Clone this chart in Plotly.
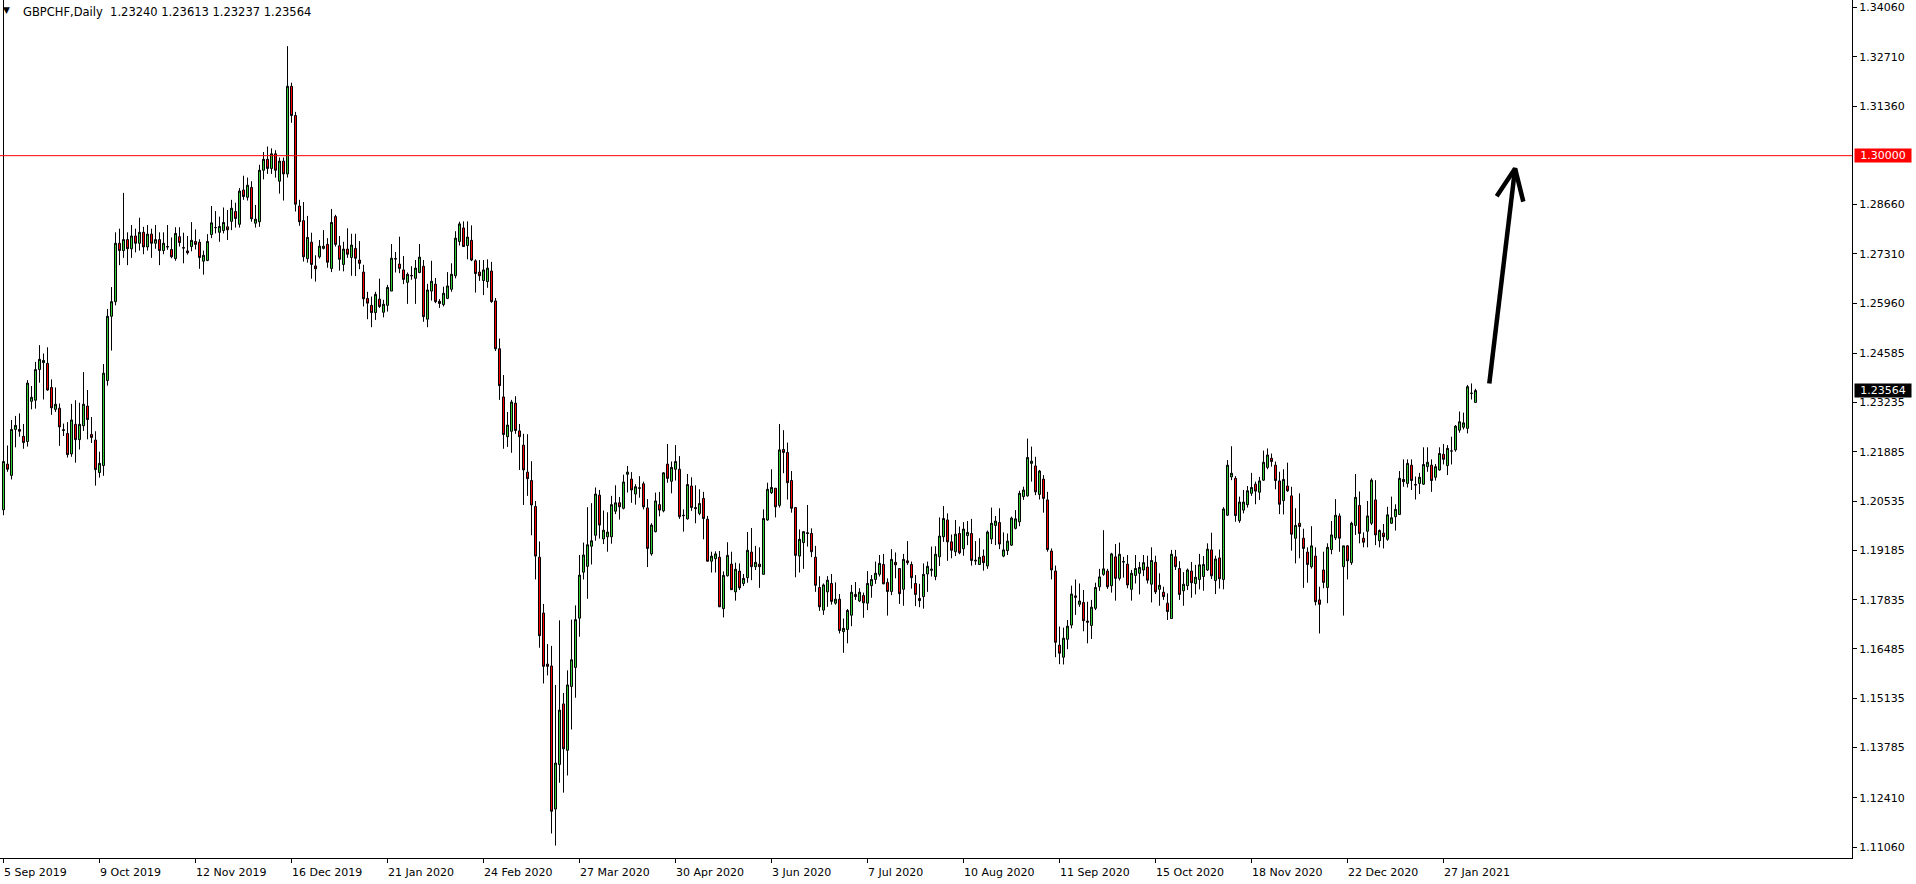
import plotly.graph_objects as go

# ---------------- data ----------------
open_ = [
 1.2030, 1.2155, 1.2124, 1.2250, 1.2250, 1.2231, 1.2217, 1.2327, 1.2330, 1.2414,
 1.2433, 1.2431, 1.2365, 1.2305, 1.2308, 1.2247, 1.2239, 1.2183, 1.2264, 1.2222,
 1.2260, 1.2314, 1.2236, 1.2221, 1.2132, 1.2151, 1.2384, 1.2560, 1.2600, 1.2760,
 1.2740, 1.2770, 1.2745, 1.2780, 1.2760, 1.2790, 1.2750, 1.2785, 1.2760, 1.2770,
 1.2740, 1.2751, 1.2743, 1.2718, 1.2778, 1.2748, 1.2739, 1.2751, 1.2765, 1.2763,
 1.2711, 1.2713, 1.2784, 1.2803, 1.2790, 1.2795, 1.2805, 1.2820, 1.2847, 1.2812,
 1.2906, 1.2886, 1.2913, 1.2815, 1.2819, 1.2960, 1.2990, 1.2965, 1.3005, 1.2930,
 1.2985, 1.2950, 1.3190, 1.3110, 1.2862, 1.2822, 1.2718, 1.2763, 1.2698, 1.2723,
 1.2746, 1.2757, 1.2691, 1.2833, 1.2753, 1.2702, 1.2744, 1.2721, 1.2746, 1.2714,
 1.2681, 1.2609, 1.2590, 1.2570, 1.2607, 1.2571, 1.2590, 1.2629, 1.2718, 1.2703,
 1.2687, 1.2653, 1.2672, 1.2664, 1.2680, 1.2697, 1.2552, 1.2629, 1.2648, 1.2601,
 1.2592, 1.2609, 1.2634, 1.2671, 1.2765, 1.2802, 1.2754, 1.2768, 1.2712, 1.2681,
 1.2658, 1.2655, 1.2684, 1.2602, 1.2471, 1.2339, 1.2230, 1.2245, 1.2322, 1.2246,
 1.2207, 1.2133, 1.2110, 1.2039, 1.1900, 1.1747, 1.1607, 1.1602, 1.1210, 1.1332,
 1.1498, 1.1371, 1.1546, 1.1598, 1.1733, 1.1859, 1.1875, 1.1930, 1.1960, 1.2070,
 1.1950, 1.1956, 1.1956, 1.2026, 1.2049, 1.2034, 1.2127, 1.2114, 1.2073, 1.2090,
 1.2101, 1.2035, 1.1909, 1.1970, 1.2044, 1.2027, 1.2155, 1.2108, 1.2141, 1.2141,
 1.2015, 1.2005, 1.2095, 1.2036, 1.2020, 1.2061, 1.2004, 1.1889, 1.1896, 1.1900,
 1.1759, 1.1849, 1.1881, 1.1805, 1.1862, 1.1828, 1.1844, 1.1914, 1.1874, 1.1881,
 1.1853, 1.2002, 1.2077, 1.2089, 1.2042, 1.2195, 1.2187, 1.2110, 1.2036, 1.1903,
 1.1940, 1.1967, 1.1965, 1.1900, 1.1817, 1.1755, 1.1805, 1.1828, 1.1774, 1.1785,
 1.1696, 1.1702, 1.1741, 1.1798, 1.1780, 1.1795, 1.1774, 1.1822, 1.1839, 1.1853,
 1.1880, 1.1831, 1.1806, 1.1886, 1.1869, 1.1812, 1.1890, 1.1880, 1.1828, 1.1787,
 1.1792, 1.1854, 1.1864, 1.1847, 1.1901, 1.1956, 1.2002, 1.1942, 1.1915, 1.1965,
 1.1923, 1.1959, 1.1965, 1.1892, 1.1880, 1.1903, 1.1876, 1.1950, 1.1987, 1.1995,
 1.1903, 1.1918, 1.1933, 1.1979, 1.1997, 1.2066, 1.2068, 1.2157, 1.2150, 1.2072,
 1.2114, 1.2057, 1.1917, 1.1862, 1.1659, 1.1626, 1.1675, 1.1714, 1.1794, 1.1771,
 1.1776, 1.1725, 1.1713, 1.1760, 1.1819, 1.1853, 1.1862, 1.1822, 1.1901, 1.1842,
 1.1888, 1.1881, 1.1812, 1.1850, 1.1856, 1.1865, 1.1873, 1.1826, 1.1886, 1.1812,
 1.1804, 1.1774, 1.1732, 1.1901, 1.1869, 1.1808, 1.1822, 1.1862, 1.1828, 1.1839,
 1.1847, 1.1865, 1.1920, 1.1836, 1.1898, 1.1839, 1.2015, 1.2120, 1.2116, 1.2000,
 1.2029, 1.2044, 1.2075, 1.2100, 1.2078, 1.2111, 1.2146, 1.2171, 1.2152, 1.2109,
 1.2055, 1.2095, 1.2068, 1.1952, 1.1993, 1.1952, 1.1914, 1.1874, 1.1903, 1.1783,
 1.1865, 1.1817, 1.1921, 1.1953, 1.2013, 1.1874, 1.1931, 1.1885, 1.1987, 1.2042,
 1.1952, 1.1971, 1.1993, 1.2057, 1.1945, 1.1966, 1.1949, 1.1993, 1.2011, 1.2017,
 1.2113, 1.2102, 1.2152, 1.2099, 1.2102, 1.2100, 1.2148, 1.2152, 1.2119, 1.2139,
 1.2182, 1.2151, 1.2191, 1.2194, 1.2248, 1.2256, 1.2253, 1.2349, 1.23240,
]
high = [
 1.3450, 1.2206, 1.2276, 1.2287, 1.2294, 1.2265, 1.2385, 1.2369, 1.2435, 1.2481,
 1.2458, 1.2475, 1.2387, 1.2365, 1.2321, 1.2266, 1.2270, 1.2320, 1.2330, 1.2323,
 1.2407, 1.2358, 1.2284, 1.2245, 1.2189, 1.2429, 1.2580, 1.2640, 1.2790, 1.2800,
 1.2898, 1.2790, 1.2810, 1.2800, 1.2830, 1.2805, 1.2810, 1.2800, 1.2810, 1.2790,
 1.2790, 1.2810, 1.2776, 1.2804, 1.2804, 1.2789, 1.2780, 1.2818, 1.2798, 1.2771,
 1.2740, 1.2785, 1.2862, 1.2848, 1.2833, 1.2858, 1.2851, 1.2879, 1.2871, 1.2911,
 1.2945, 1.2940, 1.2930, 1.2865, 1.2975, 1.3010, 1.3025, 1.3020, 1.3015, 1.2995,
 1.2995, 1.3300, 1.3200, 1.3120, 1.2879, 1.2873, 1.2835, 1.2789, 1.2727, 1.2769,
 1.2796, 1.2774, 1.2854, 1.2838, 1.2780, 1.2764, 1.2801, 1.2786, 1.2786, 1.2766,
 1.2701, 1.2627, 1.2614, 1.2627, 1.2663, 1.2605, 1.2646, 1.2758, 1.2736, 1.2778,
 1.2725, 1.2680, 1.2697, 1.2714, 1.2758, 1.2714, 1.2649, 1.2712, 1.2665, 1.2607,
 1.2641, 1.2681, 1.2705, 1.2793, 1.2819, 1.2820, 1.2820, 1.2809, 1.2716, 1.2714,
 1.2714, 1.2716, 1.2709, 1.2610, 1.2499, 1.2399, 1.2298, 1.2331, 1.2341, 1.2265,
 1.2238, 1.2237, 1.2163, 1.2054, 1.1943, 1.1772, 1.1662, 1.1657, 1.1550, 1.1727,
 1.1528, 1.1590, 1.1729, 1.1768, 1.1906, 1.1940, 1.2037, 1.2048, 1.2091, 1.2084,
 1.2028, 1.2023, 1.2068, 1.2097, 1.2065, 1.2126, 1.2150, 1.2133, 1.2100, 1.2122,
 1.2107, 1.2059, 1.1993, 1.2077, 1.2079, 1.2133, 1.2210, 1.2162, 1.2207, 1.2177,
 1.2031, 1.2128, 1.2119, 1.2097, 1.2086, 1.2079, 1.2013, 1.1915, 1.1916, 1.1917,
 1.1861, 1.1941, 1.1915, 1.1885, 1.1883, 1.1854, 1.1969, 1.1980, 1.1931, 1.1927,
 1.2031, 1.2104, 1.2141, 1.2089, 1.2265, 1.2248, 1.2214, 1.2136, 1.2036, 1.1976,
 1.1970, 1.2043, 1.1979, 1.1931, 1.1848, 1.1828, 1.1848, 1.1854, 1.1831, 1.1799,
 1.1732, 1.1758, 1.1824, 1.1832, 1.1815, 1.1803, 1.1862, 1.1851, 1.1888, 1.1906,
 1.1909, 1.1842, 1.1922, 1.1913, 1.1869, 1.1909, 1.1944, 1.1888, 1.1851, 1.1827,
 1.1883, 1.1888, 1.1929, 1.1930, 1.2009, 1.2040, 1.2020, 1.1962, 1.2002, 1.1984,
 1.1996, 1.1999, 1.2005, 1.1944, 1.1952, 1.1921, 1.1973, 1.2036, 1.2013, 1.2034,
 1.1968, 1.1965, 1.2011, 1.2029, 1.2082, 1.2093, 1.2225, 1.2203, 1.2175, 1.2139,
 1.2125, 1.2079, 1.1924, 1.1877, 1.1710, 1.1707, 1.1728, 1.1822, 1.1839, 1.1828,
 1.1810, 1.1778, 1.1783, 1.1830, 1.1868, 1.1974, 1.1868, 1.1912, 1.1936, 1.1940,
 1.1901, 1.1906, 1.1865, 1.1906, 1.1887, 1.1906, 1.1904, 1.1927, 1.1904, 1.1856,
 1.1819, 1.1801, 1.1920, 1.1920, 1.1889, 1.1859, 1.1869, 1.1887, 1.1879, 1.1909,
 1.1903, 1.1938, 1.1967, 1.1904, 1.1921, 1.2037, 1.2166, 1.2204, 1.2122, 1.2066,
 1.2084, 1.2095, 1.2131, 1.2107, 1.2120, 1.2192, 1.2198, 1.2184, 1.2162, 1.2134,
 1.2141, 1.2159, 1.2093, 1.2034, 1.2075, 1.1978, 1.1927, 1.1985, 1.1927, 1.1819,
 1.1915, 1.1938, 1.1999, 1.2059, 1.2020, 1.1931, 1.1933, 1.1997, 1.2128, 1.2080,
 1.1968, 1.2054, 1.2116, 1.2111, 1.1976, 1.1991, 1.2038, 1.2066, 1.2045, 1.2136,
 1.2168, 1.2168, 1.2168, 1.2121, 1.2131, 1.2201, 1.2201, 1.2168, 1.2155, 1.2201,
 1.2210, 1.2207, 1.2230, 1.2262, 1.2299, 1.2296, 1.2372, 1.2376, 1.23613,
]
low = [
 1.2015, 1.2134, 1.2113, 1.2201, 1.2230, 1.2197, 1.2203, 1.2305, 1.2307, 1.2378,
 1.2332, 1.2356, 1.2290, 1.2298, 1.2205, 1.2232, 1.2173, 1.2175, 1.2159, 1.2195,
 1.2246, 1.2223, 1.2213, 1.2096, 1.2118, 1.2123, 1.2370, 1.2466, 1.2590, 1.2700,
 1.2720, 1.2700, 1.2720, 1.2735, 1.2740, 1.2730, 1.2740, 1.2720, 1.2745, 1.2700,
 1.2730, 1.2742, 1.2719, 1.2712, 1.2751, 1.2705, 1.2729, 1.2738, 1.2743, 1.2690,
 1.2674, 1.2711, 1.2774, 1.2787, 1.2764, 1.2787, 1.2769, 1.2796, 1.2803, 1.2803,
 1.2879, 1.2877, 1.2819, 1.2803, 1.2805, 1.2935, 1.2950, 1.2950, 1.2940, 1.2896,
 1.2877, 1.2940, 1.3090, 1.2847, 1.2808, 1.2710, 1.2707, 1.2663, 1.2655, 1.2718,
 1.2743, 1.2693, 1.2681, 1.2751, 1.2685, 1.2683, 1.2720, 1.2671, 1.2670, 1.2689,
 1.2587, 1.2552, 1.2530, 1.2550, 1.2583, 1.2557, 1.2573, 1.2629, 1.2680, 1.2678,
 1.2648, 1.2594, 1.2660, 1.2594, 1.2678, 1.2545, 1.2530, 1.2603, 1.2596, 1.2583,
 1.2587, 1.2607, 1.2627, 1.2664, 1.2754, 1.2750, 1.2716, 1.2711, 1.2625, 1.2657,
 1.2618, 1.2638, 1.2597, 1.2465, 1.2331, 1.2197, 1.2202, 1.2186, 1.2238, 1.2139,
 1.2043, 1.2068, 1.1960, 1.1839, 1.1652, 1.1554, 1.1576, 1.1143, 1.1110, 1.1282,
 1.1255, 1.1302, 1.1428, 1.1515, 1.1682, 1.1839, 1.1786, 1.1880, 1.1945, 1.1951,
 1.1936, 1.1915, 1.1937, 1.2018, 1.2003, 1.2031, 1.2077, 1.2049, 1.2044, 1.2063,
 1.2031, 1.1873, 1.1904, 1.1968, 1.2012, 1.2023, 1.2104, 1.2075, 1.2110, 1.2005,
 1.1970, 1.2003, 1.2027, 1.1993, 1.2015, 1.1949, 1.1888, 1.1858, 1.1858, 1.1764,
 1.1735, 1.1847, 1.1810, 1.1781, 1.1810, 1.1821, 1.1830, 1.1837, 1.1865, 1.1816,
 1.1853, 1.2000, 1.2073, 1.2009, 1.2036, 1.2130, 1.2058, 1.2022, 1.1845, 1.1858,
 1.1868, 1.1929, 1.1900, 1.1805, 1.1753, 1.1742, 1.1764, 1.1770, 1.1770, 1.1691,
 1.1638, 1.1664, 1.1711, 1.1783, 1.1777, 1.1734, 1.1755, 1.1789, 1.1827, 1.1847,
 1.1826, 1.1740, 1.1796, 1.1842, 1.1772, 1.1767, 1.1879, 1.1814, 1.1766, 1.1763,
 1.1759, 1.1805, 1.1847, 1.1837, 1.1876, 1.1942, 1.1890, 1.1897, 1.1903, 1.1908,
 1.1904, 1.1933, 1.1877, 1.1879, 1.1880, 1.1863, 1.1868, 1.1936, 1.1933, 1.1922,
 1.1900, 1.1906, 1.1931, 1.1976, 1.1985, 1.2057, 1.2066, 1.2107, 1.2070, 1.2058,
 1.2022, 1.1915, 1.1839, 1.1626, 1.1607, 1.1606, 1.1648, 1.1705, 1.1742, 1.1764,
 1.1697, 1.1664, 1.1676, 1.1755, 1.1808, 1.1849, 1.1813, 1.1803, 1.1781, 1.1836,
 1.1844, 1.1815, 1.1781, 1.1828, 1.1798, 1.1848, 1.1828, 1.1776, 1.1799, 1.1767,
 1.1783, 1.1728, 1.1732, 1.1865, 1.1783, 1.1767, 1.1810, 1.1789, 1.1798, 1.1812,
 1.1808, 1.1862, 1.1840, 1.1799, 1.1814, 1.1812, 1.2013, 1.2111, 1.1997, 1.1994,
 1.2020, 1.2036, 1.2068, 1.2045, 1.2057, 1.2109, 1.2141, 1.2148, 1.2086, 1.2018,
 1.2017, 1.2079, 1.1918, 1.1883, 1.1897, 1.1816, 1.1830, 1.1869, 1.1768, 1.1691,
 1.1815, 1.1774, 1.1908, 1.1947, 1.1915, 1.1740, 1.1839, 1.1879, 1.1961, 1.1938,
 1.1927, 1.1927, 1.1988, 1.1933, 1.1927, 1.1924, 1.1945, 1.1991, 1.1973, 1.2017,
 1.2093, 1.2091, 1.2084, 1.2058, 1.2073, 1.2098, 1.2134, 1.2079, 1.2110, 1.2137,
 1.2154, 1.2125, 1.2154, 1.2189, 1.2241, 1.2250, 1.2239, 1.2332, 1.23237,
]
close = [
 1.2162, 1.2141, 1.2250, 1.2261, 1.2245, 1.2214, 1.2377, 1.2338, 1.2414, 1.2442,
 1.2439, 1.2358, 1.2309, 1.2319, 1.2257, 1.2249, 1.2181, 1.2276, 1.2222, 1.2264,
 1.2319, 1.2277, 1.2228, 1.2140, 1.2157, 1.2404, 1.2560, 1.2600, 1.2760, 1.2740,
 1.2770, 1.2745, 1.2780, 1.2760, 1.2790, 1.2750, 1.2785, 1.2760, 1.2770, 1.2740,
 1.2760, 1.2750, 1.2723, 1.2787, 1.2762, 1.2747, 1.2734, 1.2768, 1.2757, 1.2721,
 1.2727, 1.2765, 1.2816, 1.2803, 1.2806, 1.2817, 1.2797, 1.2856, 1.2828, 1.2903,
 1.2888, 1.2919, 1.2827, 1.2826, 1.2960, 1.2990, 1.2965, 1.3005, 1.2960, 1.2985,
 1.2950, 1.3190, 1.3110, 1.2867, 1.2819, 1.2723, 1.2776, 1.2702, 1.2690, 1.2752,
 1.2752, 1.2708, 1.2817, 1.2757, 1.2716, 1.2744, 1.2730, 1.2755, 1.2719, 1.2705,
 1.2608, 1.2596, 1.2570, 1.2620, 1.2587, 1.2593, 1.2639, 1.2719, 1.2717, 1.2691,
 1.2661, 1.2675, 1.2671, 1.2692, 1.2722, 1.2559, 1.2632, 1.2656, 1.2600, 1.2595,
 1.2623, 1.2643, 1.2675, 1.2774, 1.2813, 1.2751, 1.2777, 1.2714, 1.2677, 1.2671,
 1.2687, 1.2692, 1.2600, 1.2471, 1.2370, 1.2236, 1.2262, 1.2325, 1.2247, 1.2230,
 1.2139, 1.2115, 1.2043, 1.1903, 1.1685, 1.1601, 1.1601, 1.1204, 1.1336, 1.1481,
 1.1375, 1.1550, 1.1619, 1.1729, 1.1851, 1.1906, 1.1934, 1.1945, 1.2073, 1.1988,
 1.1974, 1.1969, 1.2044, 1.2049, 1.2038, 1.2106, 1.2133, 1.2084, 1.2093, 1.2089,
 1.2038, 1.1924, 1.1988, 1.2054, 1.2029, 1.2131, 1.2116, 1.2146, 1.2162, 1.2011,
 1.2014, 1.2099, 1.2036, 1.2033, 1.2047, 1.2006, 1.1889, 1.1903, 1.1909, 1.1764,
 1.1850, 1.1905, 1.1811, 1.1867, 1.1816, 1.1842, 1.1919, 1.1874, 1.1886, 1.1874,
 1.2006, 1.2086, 1.2091, 1.2038, 1.2194, 1.2187, 1.2104, 1.2034, 1.1905, 1.1949,
 1.1970, 1.1965, 1.1915, 1.1823, 1.1764, 1.1824, 1.1837, 1.1779, 1.1785, 1.1699,
 1.1705, 1.1754, 1.1804, 1.1792, 1.1804, 1.1775, 1.1828, 1.1839, 1.1856, 1.1883,
 1.1827, 1.1806, 1.1894, 1.1879, 1.1800, 1.1894, 1.1885, 1.1844, 1.1798, 1.1781,
 1.1853, 1.1875, 1.1867, 1.1908, 1.1958, 1.2006, 1.1942, 1.1919, 1.1963, 1.1912,
 1.1977, 1.1968, 1.1891, 1.1890, 1.1900, 1.1885, 1.1969, 1.1993, 1.1999, 1.1936,
 1.1920, 1.1944, 1.2007, 1.2005, 1.2075, 1.2084, 1.2173, 1.2163, 1.2079, 1.2136,
 1.2061, 1.1921, 1.1865, 1.1667, 1.1637, 1.1678, 1.1711, 1.1799, 1.1790, 1.1780,
 1.1726, 1.1722, 1.1763, 1.1817, 1.1846, 1.1868, 1.1819, 1.1909, 1.1842, 1.1908,
 1.1887, 1.1824, 1.1856, 1.1869, 1.1872, 1.1885, 1.1837, 1.1891, 1.1805, 1.1823,
 1.1792, 1.1751, 1.1908, 1.1874, 1.1798, 1.1826, 1.1865, 1.1830, 1.1845, 1.1879,
 1.1880, 1.1922, 1.1849, 1.1895, 1.1841, 1.2032, 1.2152, 1.2130, 1.2014, 1.2051,
 1.2051, 1.2082, 1.2091, 1.2081, 1.2109, 1.2160, 1.2180, 1.2162, 1.2110, 1.2045,
 1.2113, 1.2082, 1.1963, 1.1987, 1.1984, 1.1924, 1.1880, 1.1931, 1.1778, 1.1771,
 1.1831, 1.1927, 1.1961, 1.2015, 1.1952, 1.1931, 1.1890, 1.1993, 1.2064, 1.1965,
 1.1941, 1.2013, 1.2111, 1.1961, 1.1973, 1.1956, 1.2016, 1.2008, 1.2031, 1.2116,
 1.2107, 1.2157, 1.2110, 1.2098, 1.2119, 1.2154, 1.2160, 1.2110, 1.2148, 1.2184,
 1.2168, 1.2198, 1.2191, 1.2259, 1.2271, 1.2268, 1.2367, 1.2349, 1.23564,
]

x_tick_labels = ["5 Sep 2019", "9 Oct 2019", "12 Nov 2019", "16 Dec 2019", "21 Jan 2020",
                 "24 Feb 2020", "27 Mar 2020", "30 Apr 2020", "3 Jun 2020", "7 Jul 2020",
                 "10 Aug 2020", "11 Sep 2020", "15 Oct 2020", "18 Nov 2020", "22 Dec 2020",
                 "27 Jan 2021"]
bars_per_label = 24
y_tick_values = [1.34060, 1.32710, 1.31360, 1.28660, 1.27310, 1.25960, 1.24585, 1.23235,
                 1.21885, 1.20535, 1.19185, 1.17835, 1.16485, 1.15135, 1.13785, 1.12410, 1.11060]
level_price = 1.30000
symbol_title = "GBPCHF,Daily"
arrow_shaft_x = [371.45, 377.9]
arrow_shaft_y = [1.2376, 1.2965]
arrow_head_x = [373.3, 377.9, 379.95]
arrow_head_y = [1.2889, 1.2965, 1.2874]

# ---------------- figure ----------------
FONT = "DejaVu Sans"
x = list(range(len(close)))
tick_pos = [i * bars_per_label for i in range(len(x_tick_labels))]

fig = go.Figure()
fig.add_trace(go.Candlestick(
    x=x, open=open_, high=high, low=low, close=close,
    increasing=dict(line=dict(color="black", width=1), fillcolor="#32CD32"),
    decreasing=dict(line=dict(color="black", width=1), fillcolor="#FF0000"),
    whiskerwidth=0, hoverinfo="skip", showlegend=False,
))
for xs, ys in ((arrow_shaft_x, arrow_shaft_y), (arrow_head_x, arrow_head_y)):
    fig.add_trace(go.Scatter(x=xs, y=ys, mode="lines",
                             line=dict(color="black", width=4.5),
                             hoverinfo="skip", showlegend=False))

fig.add_shape(type="line", xref="paper", x0=0, x1=1, yref="y",
              y0=level_price, y1=level_price, line=dict(color="#FF0000", width=1))

annotations = []
for pos, lab in zip(tick_pos, x_tick_labels):
    annotations.append(dict(x=pos, xref="x", y=0, yref="paper", text=lab,
                            xanchor="left", yanchor="top", yshift=-6, xshift=-2,
                            showarrow=False, font=dict(family=FONT, size=11, color="black")))
annotations.append(dict(x=1, xref="paper", y=level_price, yref="y",
                        text=f"{level_price:.5f}", xanchor="left", yanchor="middle",
                        xshift=2, showarrow=False, bgcolor="#FF0000", borderpad=0,
                        width=56, height=13, align="center",
                        font=dict(family=FONT, size=11, color="white")))
annotations.append(dict(x=1, xref="paper", y=close[-1], yref="y",
                        text=f"{close[-1]:.5f}", xanchor="left", yanchor="middle",
                        xshift=2, showarrow=False, bgcolor="black", borderpad=0,
                        width=56, height=13, align="center",
                        font=dict(family=FONT, size=11, color="white")))
annotations.append(dict(x=0, xref="paper", y=1, yref="paper", text="\u25BC",
                        xanchor="left", yanchor="top", xshift=1, yshift=-3,
                        showarrow=False, font=dict(family=FONT, size=9, color="black")))
header = symbol_title + "\u00a0\u00a0" + "\u00a0".join(
    f"{v:.5f}" for v in (open_[-1], high[-1], low[-1], close[-1]))
annotations.append(dict(x=0, xref="paper", y=1, yref="paper", text=header,
                        xanchor="left", yanchor="top", xshift=21, yshift=-3,
                        showarrow=False, font=dict(family=FONT, size=11.5, color="black")))

fig.update_layout(
    width=1916, height=884,
    margin=dict(l=0, r=64, t=0, b=26, pad=0, autoexpand=False),
    paper_bgcolor="white", plot_bgcolor="white",
    showlegend=False,
    boxgap=0.3, boxgroupgap=0.2857,
    annotations=annotations,
    xaxis=dict(range=[-0.875, 462.125], rangeslider=dict(visible=False), automargin=False,
               showgrid=False, zeroline=False, showline=True, linecolor="black", linewidth=1,
               ticks="outside", ticklen=4, tickcolor="black",
               tickvals=tick_pos, ticktext=[""] * len(tick_pos), fixedrange=True),
    yaxis=dict(range=[1.107592, 1.342644], side="right", automargin=False,
               showgrid=False, zeroline=False, showline=True, linecolor="black", linewidth=1,
               ticks="outside", ticklen=4, tickcolor="black",
               tickvals=y_tick_values, ticktext=[f"{v:.5f}" for v in y_tick_values],
               tickfont=dict(family=FONT, size=11, color="black"), fixedrange=True),
)

fig.write_html("out.html", config={"displayModeBar": False},
               post_script="document.body.style.margin='0px';")
